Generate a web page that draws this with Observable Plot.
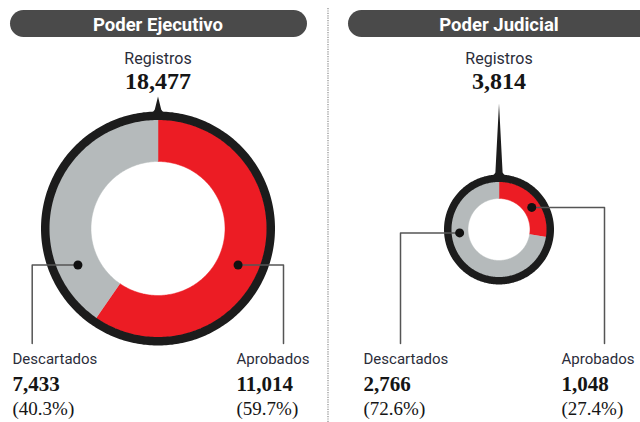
<!DOCTYPE html>
<html><head><meta charset="utf-8">
<script src="https://cdn.jsdelivr.net/npm/d3@7"></script>
<script src="https://cdn.jsdelivr.net/npm/@observablehq/plot@0.6"></script>
<style>body{margin:0;background:#fff;overflow:hidden}</style>
</head><body><div id="chart"></div>
<script>
// ---- data ----
const poderes = ["Poder Ejecutivo", "Poder Judicial"];
const registros = [18477, 3814];
const aprobados = [11014, 1048];
const descartados = [7433, 2766];
const pctAprobados = ["59.7%", "27.4%"];
const pctDescartados = ["40.3%", "72.6%"];
const categorias = ["Descartados", "Aprobados"];
const encabezado = "Registros";

// ---- layout (not data) ----
const colores = {Aprobados: "#ec1c24", Descartados: "#b5babb"};
const L = [
  {cx: 157.5, cy: 228, R: 117, ring: 8, r0: 67, pill: [10, 307], tipY: 96, tipW: 3.2,
   lead: {Descartados: {ang: 245.5, x: 31.7, tx: 12}, Aprobados: {ang: 114.5, x: 283, tx: 236}}},
  {cx: 498.5, cy: 229, R: 55, ring: 7, r0: 31, pill: [348, 664], tipY: 103, tipW: 3.6,
   lead: {Descartados: {ang: 265, x: 400, tx: 363}, Aprobados: {ang: 56, x: 604, tx: 561}}}
];
const deg = Math.PI / 180;
const pt = (c, r, a) => [c.cx + r * Math.sin(a * deg), c.cy - r * Math.cos(a * deg)];
function band(c, r0, r1, a0, a1, key) {
  const n = Math.max(2, Math.ceil(Math.abs(a1 - a0) / 1));
  const pts = [];
  for (let i = 0; i <= n; i++) pts.push(pt(c, r1, a0 + (a1 - a0) * i / n));
  for (let i = n; i >= 0; i--) pts.push(pt(c, r0, a0 + (a1 - a0) * i / n));
  return pts.map(([x, y]) => ({x, y, key}));
}
const fmt = d3.format(",");

const ringRows = [], aprobRows = [], descRows = [], spikeRows = [], leadRows = [], dotRows = [], labelRows = [];
poderes.forEach((p, i) => {
  const c = L[i];
  const frac = aprobados[i] / registros[i];
  const rOut = c.R - c.ring;
  ringRows.push(...band(c, rOut - 0.5, c.R, 0, 360, p));
  aprobRows.push(...band(c, c.r0, rOut, 0, frac * 360, p));
  descRows.push(...band(c, c.r0, rOut, frac * 360, 360, p));
  const top = c.cy - c.R;
  [[c.cx, c.tipY], [c.cx + c.tipW, top - 2], [c.cx + c.tipW + 3.5, top + 3], [c.cx - c.tipW - 3.5, top + 3], [c.cx - c.tipW, top - 2]]
    .forEach(([x, y]) => spikeRows.push({x, y, key: p}));
  categorias.forEach(cat => {
    const ld = c.lead[cat];
    const [dx, dy] = pt(c, (c.r0 + rOut) / 2, ld.ang);
    dotRows.push({x: dx, y: dy});
    [[dx, dy], [ld.x, dy], [ld.x, 343]].forEach(([x, y]) => leadRows.push({x, y, key: p + cat}));
    labelRows.push({
      x: ld.tx, cat,
      n: fmt(cat === "Aprobados" ? aprobados[i] : descartados[i]),
      pct: "(" + (cat === "Aprobados" ? pctAprobados[i] : pctDescartados[i]) + ")"
    });
  });
});
const heads = poderes.map((p, i) => ({p, x1: L[i].pill[0], x2: L[i].pill[1], cx: L[i].cx, total: fmt(registros[i])}));

const sans = "Roboto, 'Liberation Sans', sans-serif";
const serif = "'Liberation Serif', 'DejaVu Serif', serif";

const chart = Plot.plot({
  width: 640, height: 422, margin: 0,
  x: {domain: [0, 640], range: [0, 640], axis: null},
  y: {domain: [0, 422], range: [0, 422], axis: null},
  marks: [
    Plot.ruleX([327.5], {y1: 8, y2: 422, stroke: "#8a8a8a", strokeWidth: 1.2, strokeDasharray: "1.2,1.2"}),
    Plot.rect(heads, {x1: "x1", x2: "x2", y1: 10, y2: 37, rx: 13.5, fill: "#4a4a4a"}),
    Plot.text(heads, {x: "cx", y: 30, text: "p", fill: "white", fontWeight: "bold", fontSize: 18.5, fontFamily: sans, lineAnchor: "bottom"}),
    Plot.text(heads, {x: "cx", y: 63, text: () => encabezado, fill: "#2b2d3a", fontSize: 16, fontFamily: sans, lineAnchor: "bottom"}),
    Plot.text(heads, {x: "cx", y: 88, text: "total", fill: "#151515", fontWeight: "bold", fontSize: 24, fontFamily: serif, lineAnchor: "bottom"}),
    Plot.line(spikeRows, {x: "x", y: "y", z: "key", fill: "#1c1c1c", stroke: "none"}),
    Plot.line(aprobRows, {x: "x", y: "y", z: "key", fill: colores.Aprobados, stroke: colores.Aprobados, strokeWidth: 0.5}),
    Plot.line(descRows, {x: "x", y: "y", z: "key", fill: colores.Descartados, stroke: colores.Descartados, strokeWidth: 0.5}),
    Plot.line(ringRows, {x: "x", y: "y", z: "key", fill: "#1c1c1c", stroke: "none"}),
    Plot.line(leadRows, {x: "x", y: "y", z: "key", stroke: "#555", strokeWidth: 1.5}),
    Plot.dot(dotRows, {x: "x", y: "y", r: 4.5, fill: "#111", stroke: "none"}),
    Plot.text(labelRows, {x: "x", y: 363, text: "cat", textAnchor: "start", fill: "#2b2d3a", fontSize: 15, fontFamily: sans, lineAnchor: "bottom"}),
    Plot.text(labelRows, {x: "x", y: 390, text: "n", textAnchor: "start", fill: "#151515", fontWeight: "bold", fontSize: 21, fontFamily: serif, lineAnchor: "bottom"}),
    Plot.text(labelRows, {x: "x", y: 414, text: "pct", textAnchor: "start", fill: "#151515", fontSize: 19, fontFamily: serif, lineAnchor: "bottom"})
  ]
});
document.getElementById("chart").appendChild(chart);
</script>
</body></html>
